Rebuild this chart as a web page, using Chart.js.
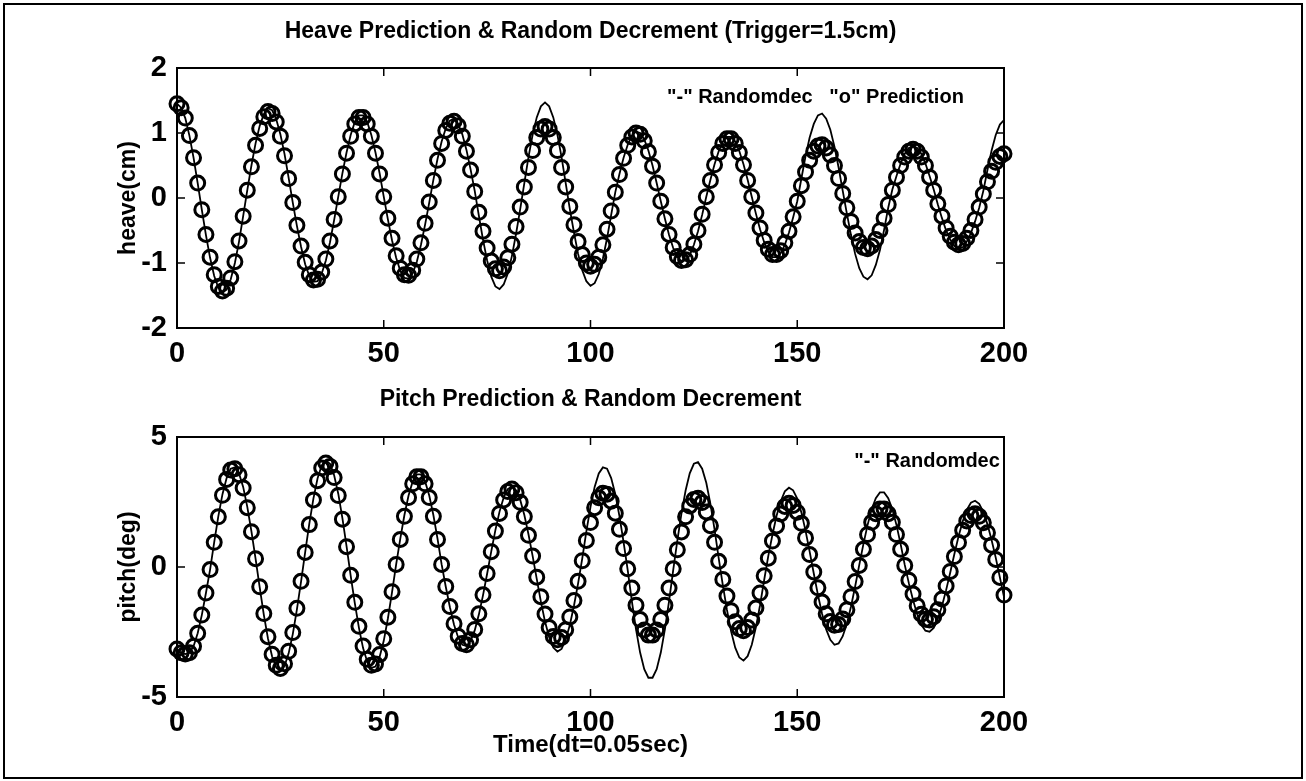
<!DOCTYPE html>
<html>
<head>
<meta charset="utf-8">
<title>Heave / Pitch Prediction & Random Decrement</title>
<script src="https://cdn.jsdelivr.net/npm/chart.js@4.4.1/dist/chart.umd.min.js"></script>
<style>
  html, body { margin: 0; padding: 0; background: #fff; }
  #frame { position: relative; width: 1306px; height: 781px; overflow: hidden; background: #fff; }
  #border { position: absolute; left: 3px; top: 3px; width: 1296px; height: 772px; border: 2px solid #000; }
  canvas { position: absolute; left: 0; }
  #heaveChart { top: 0; }
  #pitchChart { top: 370px; }
</style>
</head>
<body>
<div id="frame">
  <div id="border"></div>
  <canvas id="heaveChart" width="1306" height="370"></canvas>
  <canvas id="pitchChart" width="1306" height="411"></canvas>
</div>
<script>
// sample index = time step (dt = 0.05 sec), 0..200
const xTicks = [0, 50, 100, 150, 200];
const heaveTicks = [-2, -1, 0, 1, 2];
const pitchTicks = [-5, 0, 5];

// heave, "o" prediction
const heavePred = [
  1.45, 1.39, 1.23, 0.96, 0.62, 0.23,
  -0.18, -0.56, -0.91, -1.18, -1.36, -1.43, -1.39, -1.23, -0.98, -0.66, -0.28,
  0.12, 0.48, 0.81, 1.07, 1.25, 1.33, 1.30, 1.17, 0.95, 0.65, 0.30,
  -0.07, -0.42, -0.74, -0.99, -1.18, -1.26, -1.25, -1.14, -0.94, -0.66, -0.33,
  0.02, 0.37, 0.69, 0.95, 1.14, 1.24, 1.24, 1.14, 0.95, 0.69, 0.37, 0.02,
  -0.31, -0.62, -0.89, -1.08, -1.18, -1.19, -1.11, -0.94, -0.69, -0.39, -0.06,
  0.27, 0.58, 0.84, 1.04, 1.15, 1.18, 1.11, 0.95, 0.72, 0.43, 0.10,
  -0.22, -0.51, -0.77, -0.97, -1.09, -1.12, -1.06, -0.92, -0.71, -0.44, -0.14,
  0.17, 0.47, 0.73, 0.93, 1.06, 1.10, 1.06, 0.93, 0.73, 0.47, 0.17,
  -0.13, -0.41, -0.67, -0.87, -1.00, -1.05, -1.02, -0.91, -0.72, -0.48, -0.20,
  0.09, 0.36, 0.61, 0.81, 0.94, 1.00, 0.98, 0.88, 0.71, 0.49, 0.23,
  -0.05, -0.32, -0.56, -0.76, -0.90, -0.96, -0.95, -0.87, -0.71, -0.50, -0.25,
  0.02, 0.27, 0.51, 0.70, 0.84, 0.91, 0.91, 0.84, 0.70, 0.51, 0.27, 0.02,
  -0.23, -0.46, -0.65, -0.79, -0.87, -0.87, -0.81, -0.69, -0.51, -0.29, -0.05,
  0.19, 0.40, 0.58, 0.72, 0.80, 0.82, 0.77, 0.66, 0.50, 0.30, 0.07,
  -0.15, -0.36, -0.54, -0.67, -0.76, -0.78, -0.74, -0.64, -0.50, -0.31, -0.10,
  0.12, 0.32, 0.50, 0.63, 0.72, 0.75, 0.72, 0.63, 0.50, 0.32, 0.12,
  -0.09, -0.28, -0.46, -0.59, -0.68, -0.72, -0.70, -0.62, -0.50, -0.33, -0.14,
  0.06, 0.25, 0.41, 0.55, 0.64, 0.68
];

// heave, "-" randomdec
const heaveRand = [
  1.45, 1.39, 1.23, 0.96, 0.62, 0.23,
  -0.18, -0.57, -0.92, -1.20, -1.38, -1.45, -1.41, -1.25, -1.00, -0.67, -0.28,
  0.12, 0.50, 0.84, 1.11, 1.29, 1.38, 1.35, 1.21, 0.98, 0.68, 0.31,
  -0.07, -0.43, -0.75, -1.02, -1.20, -1.29, -1.28, -1.16, -0.96, -0.68, -0.34,
  0.02, 0.38, 0.70, 0.97, 1.17, 1.27, 1.27, 1.17, 0.97, 0.70, 0.38, 0.02,
  -0.33, -0.65, -0.92, -1.12, -1.23, -1.24, -1.16, -0.98, -0.72, -0.41, -0.07,
  0.28, 0.60, 0.87, 1.07, 1.19, 1.22, 1.14, 0.98, 0.74, 0.44, 0.11,
  -0.27, -0.64, -0.96, -1.21, -1.36, -1.40, -1.33, -1.16, -0.89, -0.55, -0.17,
  0.23, 0.63, 0.97, 1.24, 1.41, 1.47, 1.41, 1.24, 0.97, 0.63, 0.23,
  -0.17, -0.53, -0.86, -1.11, -1.28, -1.35, -1.31, -1.17, -0.93, -0.62, -0.26,
  0.09, 0.37, 0.62, 0.82, 0.96, 1.02, 1.00, 0.90, 0.73, 0.50, 0.23,
  -0.05, -0.32, -0.57, -0.77, -0.91, -0.97, -0.96, -0.88, -0.72, -0.51, -0.26,
  0.02, 0.28, 0.52, 0.72, 0.87, 0.94, 0.94, 0.87, 0.72, 0.52, 0.28, 0.02,
  -0.24, -0.48, -0.68, -0.83, -0.91, -0.91, -0.85, -0.72, -0.53, -0.30, -0.05,
  0.30, 0.64, 0.93, 1.14, 1.27, 1.30, 1.22, 1.05, 0.79, 0.47, 0.11,
  -0.24, -0.57, -0.86, -1.08, -1.21, -1.25, -1.19, -1.03, -0.80, -0.49, -0.15,
  0.13, 0.34, 0.53, 0.68, 0.77, 0.80, 0.77, 0.68, 0.53, 0.34, 0.13,
  -0.10, -0.31, -0.50, -0.64, -0.74, -0.78, -0.76, -0.67, -0.54, -0.36, -0.15,
  0.11, 0.43, 0.73, 0.97, 1.13, 1.20
];

// pitch, "o" prediction
const pitchPred = [
  -3.15, -3.30, -3.35, -3.30, -3.05, -2.55, -1.85, -1.00, -0.10,
  0.95, 1.93, 2.76, 3.37, 3.73, 3.78, 3.55, 3.04, 2.28, 1.36, 0.32,
  -0.76, -1.79, -2.68, -3.36, -3.78, -3.90, -3.72, -3.24, -2.52, -1.59, -0.55,
  0.56, 1.63, 2.58, 3.32, 3.81, 4.00, 3.87, 3.44, 2.75, 1.84, 0.78,
  -0.32, -1.36, -2.28, -3.04, -3.55, -3.78, -3.73, -3.37, -2.76, -1.93, -0.95,
  0.10, 1.06, 1.95, 2.67, 3.20, 3.47, 3.47, 3.20, 2.67, 1.95, 1.06, 0.10,
  -0.75, -1.52, -2.18, -2.66, -2.94, -2.99, -2.80, -2.40, -1.80, -1.07, -0.25,
  0.59, 1.38, 2.06, 2.58, 2.90, 3.00, 2.86, 2.49, 1.94, 1.22, 0.42,
  -0.39, -1.14, -1.81, -2.33, -2.67, -2.80, -2.71, -2.41, -1.92, -1.29, -0.55,
  0.24, 1.02, 1.71, 2.28, 2.66, 2.84, 2.80, 2.53, 2.07, 1.45, 0.71,
  -0.07, -0.81, -1.47, -2.02, -2.42, -2.62, -2.62, -2.42, -2.02, -1.47, -0.81, -0.07,
  0.66, 1.35, 1.93, 2.35, 2.60, 2.64, 2.48, 2.12, 1.59, 0.95, 0.22,
  -0.48, -1.12, -1.68, -2.11, -2.37, -2.45, -2.33, -2.04, -1.58, -1.00, -0.34,
  0.34, 1.00, 1.58, 2.04, 2.33, 2.45, 2.37, 2.11, 1.68, 1.12, 0.48,
  -0.19, -0.80, -1.35, -1.80, -2.10, -2.24, -2.21, -2.00, -1.64, -1.14, -0.56,
  0.06, 0.68, 1.25, 1.72, 2.05, 2.23, 2.23, 2.05, 1.72, 1.25, 0.68, 0.06,
  -0.51, -1.04, -1.49, -1.82, -2.01, -2.04, -1.91, -1.64, -1.23, -0.73, -0.17,
  0.40, 0.94, 1.41, 1.77, 1.98, 2.05, 1.95, 1.70, 1.32, 0.84, 0.29,
  -0.40, -1.08
];

// pitch, "-" randomdec
const pitchRand = [
  -3.15, -3.30, -3.35, -3.30, -3.05, -2.55, -1.85, -1.00, -0.10,
  0.96, 1.96, 2.80, 3.42, 3.78, 3.83, 3.60, 3.08, 2.31, 1.37, 0.32,
  -0.78, -1.84, -2.75, -3.44, -3.87, -4.00, -3.81, -3.32, -2.58, -1.63, -0.56,
  0.57, 1.67, 2.64, 3.41, 3.91, 4.10, 3.97, 3.53, 2.82, 1.88, 0.80,
  -0.33, -1.39, -2.34, -3.12, -3.64, -3.88, -3.83, -3.46, -2.84, -1.98, -0.98,
  0.10, 1.09, 2.00, 2.75, 3.29, 3.56, 3.56, 3.29, 2.75, 2.00, 1.09, 0.10,
  -0.76, -1.55, -2.22, -2.71, -2.99, -3.04, -2.85, -2.44, -1.83, -1.09, -0.26,
  0.60, 1.42, 2.13, 2.67, 3.00, 3.10, 2.95, 2.58, 2.00, 1.26, 0.43,
  -0.46, -1.33, -2.10, -2.70, -3.10, -3.25, -3.15, -2.80, -2.23, -1.49, -0.63,
  0.32, 1.37, 2.31, 3.08, 3.60, 3.83, 3.78, 3.42, 2.80, 1.96, 0.96,
  -0.12, -1.31, -2.39, -3.29, -3.93, -4.26, -4.26, -3.93, -3.29, -2.39, -1.31, -0.12,
  1.01, 2.06, 2.94, 3.60, 3.97, 4.03, 3.78, 3.24, 2.43, 1.45, 0.34,
  -0.70, -1.65, -2.47, -3.10, -3.48, -3.60, -3.43, -2.99, -2.32, -1.47, -0.50,
  0.43, 1.24, 1.97, 2.53, 2.91, 3.05, 2.95, 2.63, 2.10, 1.40, 0.59,
  -0.25, -1.07, -1.80, -2.40, -2.80, -2.99, -2.94, -2.66, -2.18, -1.52, -0.75,
  0.08, 0.88, 1.61, 2.22, 2.65, 2.87, 2.87, 2.65, 2.22, 1.61, 0.88, 0.08,
  -0.63, -1.27, -1.82, -2.22, -2.45, -2.49, -2.34, -2.00, -1.50, -0.89, -0.21,
  0.50, 1.17, 1.75, 2.20, 2.47, 2.55, 2.43, 2.12, 1.64, 1.04, 0.36,
  -0.40, -1.15
];

const FONT = "'Liberation Sans', Arial, Helvetica, sans-serif";

const toPoints = ys => ys.map((y, i) => ({ x: i, y: y }));

// matlab style box: frame all round, ticks pointing inward, text note inside
const matlabBox = {
  id: 'matlabBox',
  afterDatasetsDraw(chart, args, opts) {
    const { ctx, chartArea: a } = chart;
    const xs = chart.scales.x, ys = chart.scales.y;
    ctx.save();
    ctx.strokeStyle = '#000';
    ctx.lineWidth = 2;
    ctx.strokeRect(a.left, a.top, a.right - a.left, a.bottom - a.top);
    ctx.lineWidth = 1.5;
    ctx.beginPath();
    xs.ticks.forEach(t => {
      const px = xs.getPixelForValue(t.value);
      ctx.moveTo(px, a.bottom); ctx.lineTo(px, a.bottom - 8);
      ctx.moveTo(px, a.top); ctx.lineTo(px, a.top + 8);
    });
    ys.ticks.forEach(t => {
      const py = ys.getPixelForValue(t.value);
      ctx.moveTo(a.left, py); ctx.lineTo(a.left + 8, py);
      ctx.moveTo(a.right, py); ctx.lineTo(a.right - 8, py);
    });
    ctx.stroke();
    if (opts.note) {
      ctx.fillStyle = '#000';
      ctx.font = 'bold 20px ' + FONT;
      ctx.textBaseline = 'middle';
      ctx.textAlign = opts.note.align || 'left';
      ctx.fillText(opts.note.text, xs.getPixelForValue(opts.note.x), ys.getPixelForValue(opts.note.y));
    }
    ctx.restore();
  }
};

function makeChart(id, cfg) {
  const ctx = document.getElementById(id).getContext('2d');
  return new Chart(ctx, {
    type: 'scatter',
    data: {
      datasets: [{
        label: 'Randomdec',
        data: toPoints(cfg.line),
        showLine: true,
        borderColor: '#000',
        borderWidth: 1.8,
        pointRadius: 0,
        tension: 0
      }, {
        label: 'Prediction',
        data: toPoints(cfg.circles),
        showLine: false,
        pointStyle: 'circle',
        pointRadius: 7,
        pointBorderWidth: 3,
        pointBorderColor: '#000',
        pointBackgroundColor: 'rgba(0,0,0,0)',
        clip: false
      }]
    },
    options: {
      responsive: false,
      animation: false,
      devicePixelRatio: 1,
      layout: { padding: { left: 110, right: 302, top: 0, bottom: 0 } },
      plugins: {
        legend: { display: false },
        tooltip: { enabled: false },
        title: {
          display: true,
          text: cfg.title,
          color: '#000',
          fullSize: false,
          font: { family: FONT, size: 23, weight: 'bold', lineHeight: 1.2 },
          padding: cfg.titlePad
        },
        matlabBox: { note: cfg.note }
      },
      scales: {
        x: {
          type: 'linear',
          min: 0, max: 200,
          afterBuildTicks: s => { s.ticks = xTicks.map(v => ({ value: v })); },
          ticks: { color: '#000', padding: 9, maxRotation: 0, font: { family: FONT, size: 29, weight: 'bold' } },
          grid: { display: false, drawTicks: false },
          border: { display: false },
          title: cfg.xTitle,
          afterFit: s => { s.height = cfg.xHeight; }
        },
        y: {
          min: cfg.yTicks[0], max: cfg.yTicks[cfg.yTicks.length - 1],
          afterBuildTicks: s => { s.ticks = cfg.yTicks.map(v => ({ value: v })); },
          ticks: { color: '#000', padding: 10, font: { family: FONT, size: 29, weight: 'bold' } },
          grid: { display: false, drawTicks: false },
          border: { display: false },
          title: {
            display: true, text: cfg.yTitle, color: '#000',
            font: { family: FONT, size: 23, weight: 'bold' }, padding: { top: 5, bottom: 0 }
          },
          afterFit: s => { s.width = 67; }
        }
      }
    },
    plugins: [matlabBox]
  });
}

makeChart('heaveChart', {
  title: 'Heave Prediction & Random Decrement (Trigger=1.5cm)',
  titlePad: { top: 17.5, bottom: 22.9 },
  line: heaveRand,
  circles: heavePred,
  yTicks: heaveTicks,
  yTitle: 'heave(cm)',
  xTitle: { display: false },
  xHeight: 42,
  note: { text: '"-" Randomdec   "o" Prediction', x: 118.5, y: 1.55 }
});

makeChart('pitchChart', {
  title: 'Pitch Prediction & Random Decrement',
  titlePad: { top: 16, bottom: 23.4 },
  line: pitchRand,
  circles: pitchPred,
  yTicks: pitchTicks,
  yTitle: 'pitch(deg)',
  xTitle: {
    display: true, text: 'Time(dt=0.05sec)', color: '#000',
    font: { family: FONT, size: 24, weight: 'bold' }, padding: { top: 0, bottom: 21.6 }
  },
  xHeight: 84,
  note: { text: '"-" Randomdec', x: 199, y: 4.04, align: 'right' }
});
</script>
</body>
</html>
